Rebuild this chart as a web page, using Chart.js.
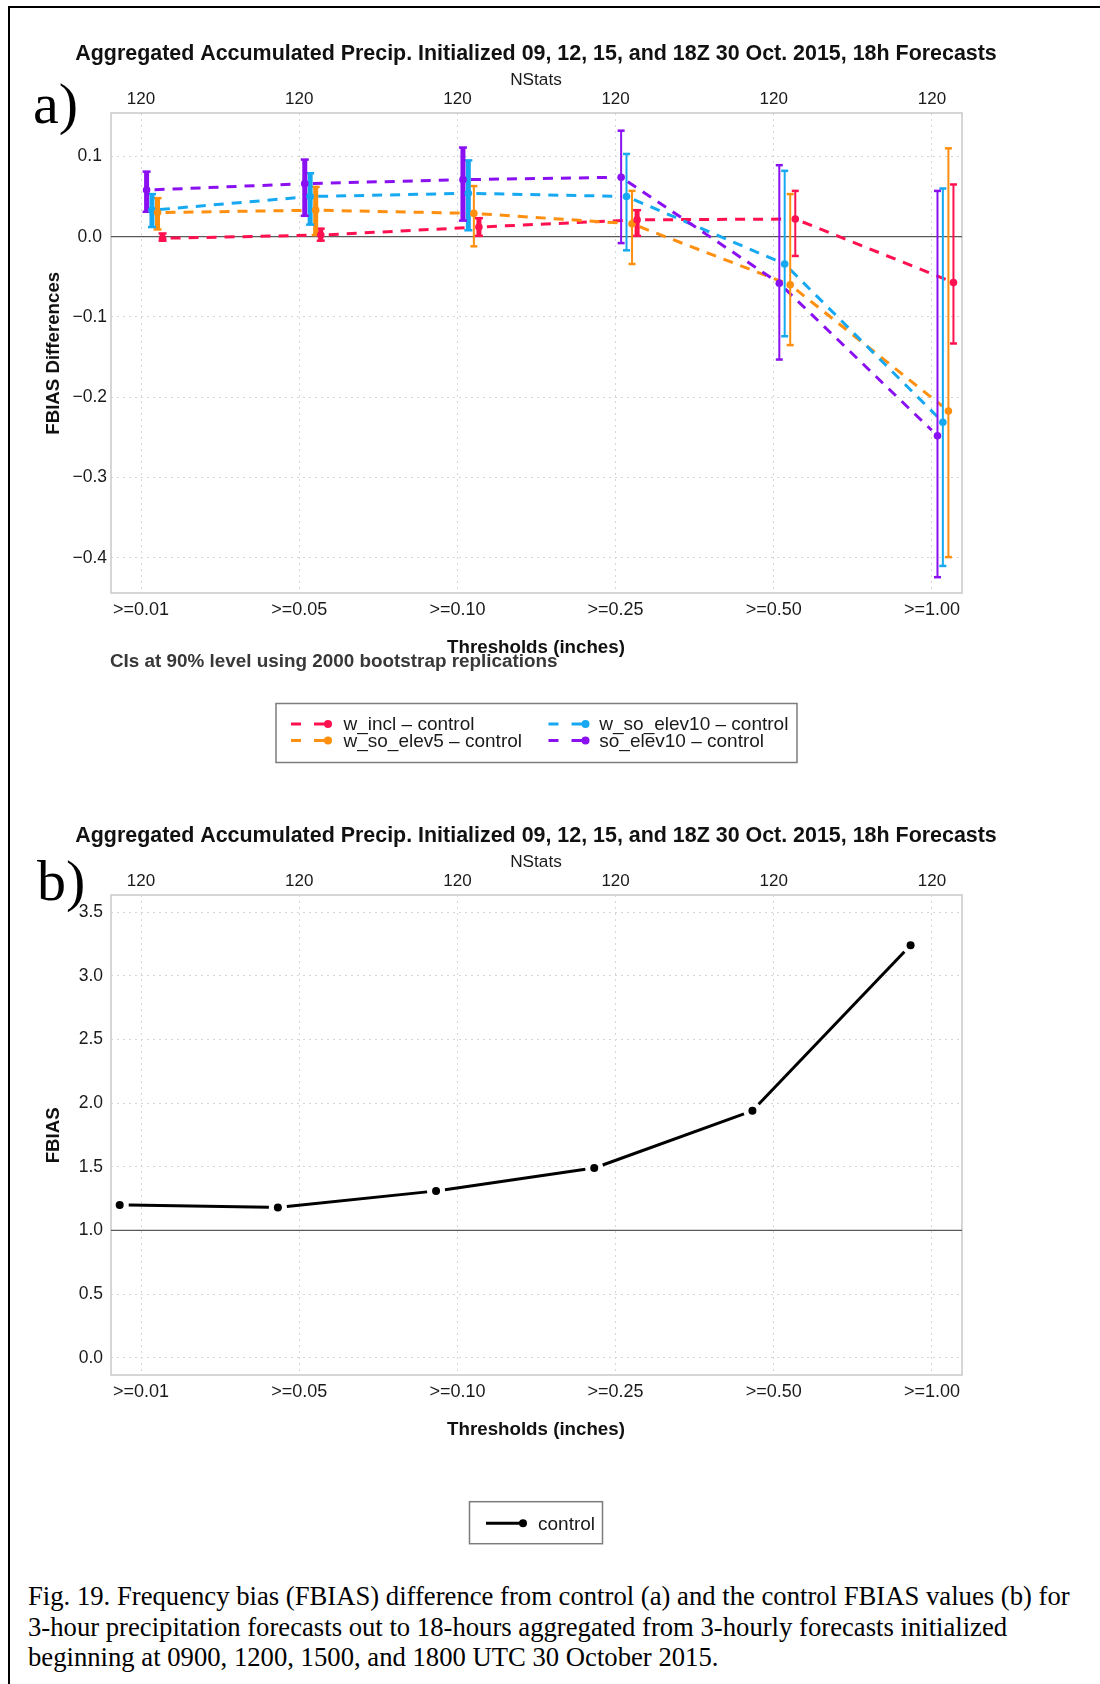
<!DOCTYPE html>
<html>
<head>
<meta charset="utf-8">
<script src="https://cdn.jsdelivr.net/npm/chart.js@4.4.1/dist/chart.umd.min.js"></script>
<style>
html,body{margin:0;padding:0;background:#fff;}
body{width:1100px;height:1684px;position:relative;overflow:hidden;}
.frame{position:absolute;left:8px;top:6px;width:1300px;height:1800px;border-top:2px solid #000;border-left:2px solid #000;}
.panel{position:absolute;left:0;width:1100px;height:780px;}
#pa{top:0;}
#pb{top:782px;}
.lab{position:absolute;font-family:'Liberation Serif','Times New Roman',serif;font-size:58px;line-height:58px;color:#000;}
#caption{position:absolute;left:28px;top:1581px;font-family:'Liberation Serif','Times New Roman',serif;font-size:24px;line-height:30.6px;white-space:nowrap;color:#000;}
#caption div{display:block;}
</style>
</head>
<body>
<div class="frame"></div>
<div class="panel" id="pa"><canvas id="ca"></canvas></div>
<div class="panel" id="pb"><canvas id="cb"></canvas></div>
<div class="lab" style="left:33px;top:75px;">a)</div>
<div class="lab" style="left:37px;top:852px;">b)</div>
<div id="caption">
<div id="cl1">Fig. 19. Frequency bias (FBIAS) difference from control (a) and the control FBIAS values (b) for</div>
<div>3-hour precipitation forecasts out to 18-hours aggregated from 3-hourly forecasts initialized</div>
<div>beginning at 0900, 1200, 1500, and 1800 UTC 30 October 2015.</div>
</div>
<script>
// ---------------- data ----------------
const thresholds = ['>=0.01', '>=0.05', '>=0.10', '>=0.25', '>=0.50', '>=1.00'];
const nStats = [120, 120, 120, 120, 120, 120];
const seriesNames = ['w_incl \u2013 control', 'w_so_elev5 \u2013 control', 'w_so_elev10 \u2013 control', 'so_elev10 \u2013 control'];

const wIncl      = [-0.002, 0.002, 0.012, 0.021, 0.022, -0.057];
const wInclLo    = [-0.005, -0.005, 0.001, 0.001, -0.024, -0.133];
const wInclHi    = [0.004, 0.010, 0.023, 0.033, 0.057, 0.065];

const wSoElev5   = [0.030, 0.033, 0.029, 0.016, -0.060, -0.217];
const wSoElev5Lo = [0.009, 0.002, -0.012, -0.034, -0.135, -0.399];
const wSoElev5Hi = [0.048, 0.062, 0.063, 0.057, 0.053, 0.110];

const wSoElev10   = [0.033, 0.050, 0.054, 0.050, -0.034, -0.231];
const wSoElev10Lo = [0.012, 0.015, 0.008, -0.017, -0.124, -0.410];
const wSoElev10Hi = [0.053, 0.079, 0.095, 0.103, 0.082, 0.060];

const soElev10   = [0.058, 0.066, 0.071, 0.074, -0.058, -0.248];
const soElev10Lo = [0.031, 0.026, 0.020, -0.008, -0.153, -0.424];
const soElev10Hi = [0.081, 0.096, 0.111, 0.132, 0.089, 0.057];

const controlFbias = [1.20, 1.18, 1.31, 1.49, 1.94, 3.24];
const controlName = 'control';

const yTicksA = [-0.4, -0.3, -0.2, -0.1, 0.0, 0.1];
const yTicksB = [0.0, 0.5, 1.0, 1.5, 2.0, 2.5, 3.0, 3.5];

// ---------------- styling ----------------
const FONT = "'Liberation Sans', Arial, Helvetica, sans-serif";
Chart.defaults.font.family = FONT;
const TXT = '#1a1a1a';
const GRID = '#d6d6d6';
const COL = { red: '#ff1150', orange: '#ff8f0f', cyan: '#16a9f2', purple: '#8a10f2' };
const X_MIN = -0.19, X_MAX = 5.19;

function fmt(v) {
  if (Math.abs(v) < 1e-9) return '0.0';
  return v.toFixed(1).replace('-', '\u2212');
}

function fitText(ctx, text, x, y, targetW, weight, color, rot, align) {
  ctx.save();
  ctx.font = weight + ' 20px ' + FONT;
  const w = ctx.measureText(text).width;
  const size = 20 * targetW / w;
  ctx.font = weight + ' ' + size.toFixed(2) + 'px ' + FONT;
  ctx.fillStyle = color;
  ctx.textAlign = align || 'center';
  ctx.textBaseline = 'middle';
  ctx.translate(x, y);
  if (rot) ctx.rotate(rot);
  ctx.fillText(text, 0, 0);
  ctx.restore();
}

function seg(ctx, x1, y1, x2, y2) {
  ctx.beginPath(); ctx.moveTo(x1, y1); ctx.lineTo(x2, y2); ctx.stroke();
}

function decoPlugin(o) {
  return {
    id: 'deco_' + o.id,
    beforeDatasetsDraw(chart) {
      const ctx = chart.ctx, ca = chart.chartArea, ys = chart.scales.y;
      ctx.save();
      ctx.strokeStyle = '#c9c9c9'; ctx.lineWidth = 1.5;
      ctx.strokeRect(ca.left, ca.top, ca.right - ca.left, ca.bottom - ca.top);
      ctx.strokeStyle = '#5a5a5a'; ctx.lineWidth = 1.4;
      const yr = ys.getPixelForValue(o.refValue);
      seg(ctx, ca.left, yr, ca.right, yr);
      ctx.restore();
      // connecting lines with gaps around the points (type "b")
      chart.data.datasets.forEach((ds, di) => {
        const pts = chart.getDatasetMeta(di).data;
        ctx.save();
        ctx.strokeStyle = ds.lineColor; ctx.lineWidth = o.lineWidth;
        ctx.setLineDash(o.dash); ctx.lineCap = 'butt';
        for (let i = 0; i < pts.length - 1; i++) {
          const a = pts[i], b = pts[i + 1];
          const dx = b.x - a.x, dy = b.y - a.y, L = Math.hypot(dx, dy);
          if (L < 2 * o.gap) continue;
          const ux = dx / L, uy = dy / L;
          seg(ctx, a.x + ux * o.gap, a.y + uy * o.gap, b.x - ux * o.gap, b.y - uy * o.gap);
        }
        ctx.restore();
      });
      // error bars
      chart.data.datasets.forEach((ds, di) => {
        if (!ds.lo) return;
        const pts = chart.getDatasetMeta(di).data;
        ctx.save();
        ctx.strokeStyle = ds.lineColor;
        pts.forEach((p, i) => {
          const yl = ys.getPixelForValue(ds.lo[i]), yh = ys.getPixelForValue(ds.hi[i]);
          const thick = ds.lo[i] > -0.007;
          ctx.lineWidth = thick ? 5 : 2;
          seg(ctx, p.x, yl, p.x, yh);
          ctx.lineWidth = 2.5;
          const cw = thick ? 4 : 3.5;
          seg(ctx, p.x - cw, yl, p.x + cw, yl);
          seg(ctx, p.x - cw, yh, p.x + cw, yh);
        });
        ctx.restore();
      });
    },
    afterDraw(chart) {
      const ctx = chart.ctx;
      fitText(ctx, 'Aggregated Accumulated Precip. Initialized 09, 12, 15, and 18Z 30 Oct. 2015, 18h Forecasts', 536, 54, 922, 'bold', '#111');
      fitText(ctx, 'NStats', 536, 79.8, 51.6, 'normal', TXT);
      fitText(ctx, 'Thresholds (inches)', 536, 648.2, 178, 'bold', '#111');
      fitText(ctx, o.yTitle, 54, 353.3, o.yTitleW, 'bold', '#111', -Math.PI / 2);
      if (o.note) fitText(ctx, o.note, 110, 662, 448, 'bold', '#383838', 0, 'left');
      // legend
      const L = o.legend;
      ctx.save();
      ctx.strokeStyle = '#7d7d7d'; ctx.lineWidth = 1.5;
      ctx.strokeRect(L.x, L.y, L.w, L.h);
      ctx.font = 'normal 19px ' + FONT;
      ctx.textAlign = 'left'; ctx.textBaseline = 'middle';
      L.items.forEach(it => {
        const ds = chart.data.datasets[it.ds];
        ctx.strokeStyle = ds.lineColor; ctx.fillStyle = ds.lineColor;
        ctx.lineWidth = 3;
        if (o.dash.length) {
          seg(ctx, it.x, it.y, it.x + 10, it.y);
          seg(ctx, it.x + 23, it.y, it.x + 34, it.y);
        } else {
          seg(ctx, it.x, it.y, it.x + 37, it.y);
        }
        ctx.beginPath(); ctx.arc(it.x + 37, it.y, 4, 0, Math.PI * 2); ctx.fill();
        ctx.fillStyle = TXT;
        ctx.fillText(ds.label, it.tx, it.y + 1);
      });
      ctx.restore();
    }
  };
}

function makeChart(canvasId, o) {
  return new Chart(document.getElementById(canvasId), {
    type: 'scatter',
    data: { datasets: o.datasets },
    options: {
      responsive: true, maintainAspectRatio: false, animation: false, devicePixelRatio: 1,
      layout: { padding: { left: 0, right: 138, top: 73, bottom: 147 } },
      plugins: { legend: { display: false }, tooltip: { enabled: false }, title: { display: false } },
      scales: {
        x: {
          type: 'linear', position: 'bottom', min: X_MIN, max: X_MAX,
          afterFit(s) { s.height = 40; },
          grid: { color: GRID, lineWidth: 1, drawTicks: false },
          border: { display: false, dash: [2, 4] },
          ticks: { stepSize: 1, includeBounds: false, autoSkip: false, maxRotation: 0, padding: 6.5,
                   color: TXT, font: { size: 18 },
                   callback: (v) => { const k = Math.round(v); return Math.abs(v - k) < 1e-6 && thresholds[k] ? thresholds[k] : ''; } }
        },
        x2: {
          type: 'linear', position: 'top', min: X_MIN, max: X_MAX,
          afterFit(s) { s.height = 40; },
          grid: { display: false, drawTicks: false },
          border: { display: false },
          ticks: { stepSize: 1, includeBounds: false, autoSkip: false, maxRotation: 0, padding: 3.5,
                   color: TXT, font: { size: 17 },
                   callback: (v) => { const k = Math.round(v); return Math.abs(v - k) < 1e-6 && nStats[k] !== undefined ? String(nStats[k]) : ''; } }
        },
        y: {
          type: 'linear', position: 'left', min: o.yMin, max: o.yMax,
          afterFit(s) { s.width = 111; },
          grid: { color: GRID, lineWidth: 1, drawTicks: false },
          border: { display: false, dash: [2, 4] },
          afterBuildTicks(s) { s.ticks = o.yTicks.map(v => ({ value: v })); },
          ticks: { stepSize: o.yStep, includeBounds: false, crossAlign: 'center', padding: o.yPad,
                   color: TXT, font: { size: 17.5 }, callback: (v) => fmt(v) }
        }
      }
    },
    plugins: [decoPlugin(o)]
  });
}

function seriesDataset(label, vals, lo, hi, color, dx) {
  return {
    label: label,
    data: vals.map((v, i) => ({ x: i + dx, y: v })),
    lo: lo, hi: hi, lineColor: color,
    showLine: false, pointRadius: 3.8, pointHoverRadius: 3.8,
    pointBackgroundColor: color, pointBorderWidth: 0, backgroundColor: color, borderColor: color
  };
}

// panel a (dodged positions: purple, cyan, orange, red)
const dsA = [
  seriesDataset(seriesNames[0], wIncl, wInclLo, wInclHi, COL.red, 0.136),
  seriesDataset(seriesNames[1], wSoElev5, wSoElev5Lo, wSoElev5Hi, COL.orange, 0.104),
  seriesDataset(seriesNames[2], wSoElev10, wSoElev10Lo, wSoElev10Hi, COL.cyan, 0.069),
  seriesDataset(seriesNames[3], soElev10, soElev10Lo, soElev10Hi, COL.purple, 0.035)
];

makeChart('ca', {
  id: 'a', datasets: dsA, yMin: -0.4437, yMax: 0.154, yStep: 0.1, yTicks: yTicksA, yPad: 4,
  refValue: 0, lineWidth: 3, dash: [10, 8], gap: 8,
  yTitle: 'FBIAS Differences', yTitleW: 163,
  note: 'CIs at 90% level using 2000 bootstrap replications',
  legend: { x: 276, y: 703.5, w: 521, h: 59,
    items: [ { ds: 0, x: 291, y: 724, tx: 343.5 }, { ds: 1, x: 291, y: 740.5, tx: 343.5 },
             { ds: 2, x: 548.5, y: 724, tx: 599.3 }, { ds: 3, x: 548.5, y: 740.5, tx: 599.3 } ] }
});

// panel b
const dsB = [ {
  label: controlName,
  data: controlFbias.map((v, i) => ({ x: i - 0.135, y: v })),
  lineColor: '#000', showLine: false, pointRadius: 4, pointHoverRadius: 4,
  pointBackgroundColor: '#000', pointBorderWidth: 0, backgroundColor: '#000', borderColor: '#000'
} ];

makeChart('cb', {
  id: 'b', datasets: dsB, yMin: -0.136, yMax: 3.635, yStep: 0.5, yTicks: yTicksB, yPad: 8,
  refValue: 1.0, lineWidth: 3, dash: [], gap: 9,
  yTitle: 'FBIAS', yTitleW: 56, note: null,
  legend: { x: 469.5, y: 719.7, w: 133, h: 42,
    items: [ { ds: 0, x: 486, y: 741.3, tx: 538 } ] }
});

// caption: fit first line to its width in the reference
function fitCaption() {
  const cap = document.getElementById('caption');
  const l1 = document.getElementById('cl1');
  cap.style.fontSize = '24px';
  const r = document.createRange(); r.selectNodeContents(l1);
  const w = r.getBoundingClientRect().width;
  if (w > 0) cap.style.fontSize = (24 * 1042 / w).toFixed(2) + 'px';
}
fitCaption();
if (document.fonts && document.fonts.ready) document.fonts.ready.then(fitCaption);
</script>
</body>
</html>
